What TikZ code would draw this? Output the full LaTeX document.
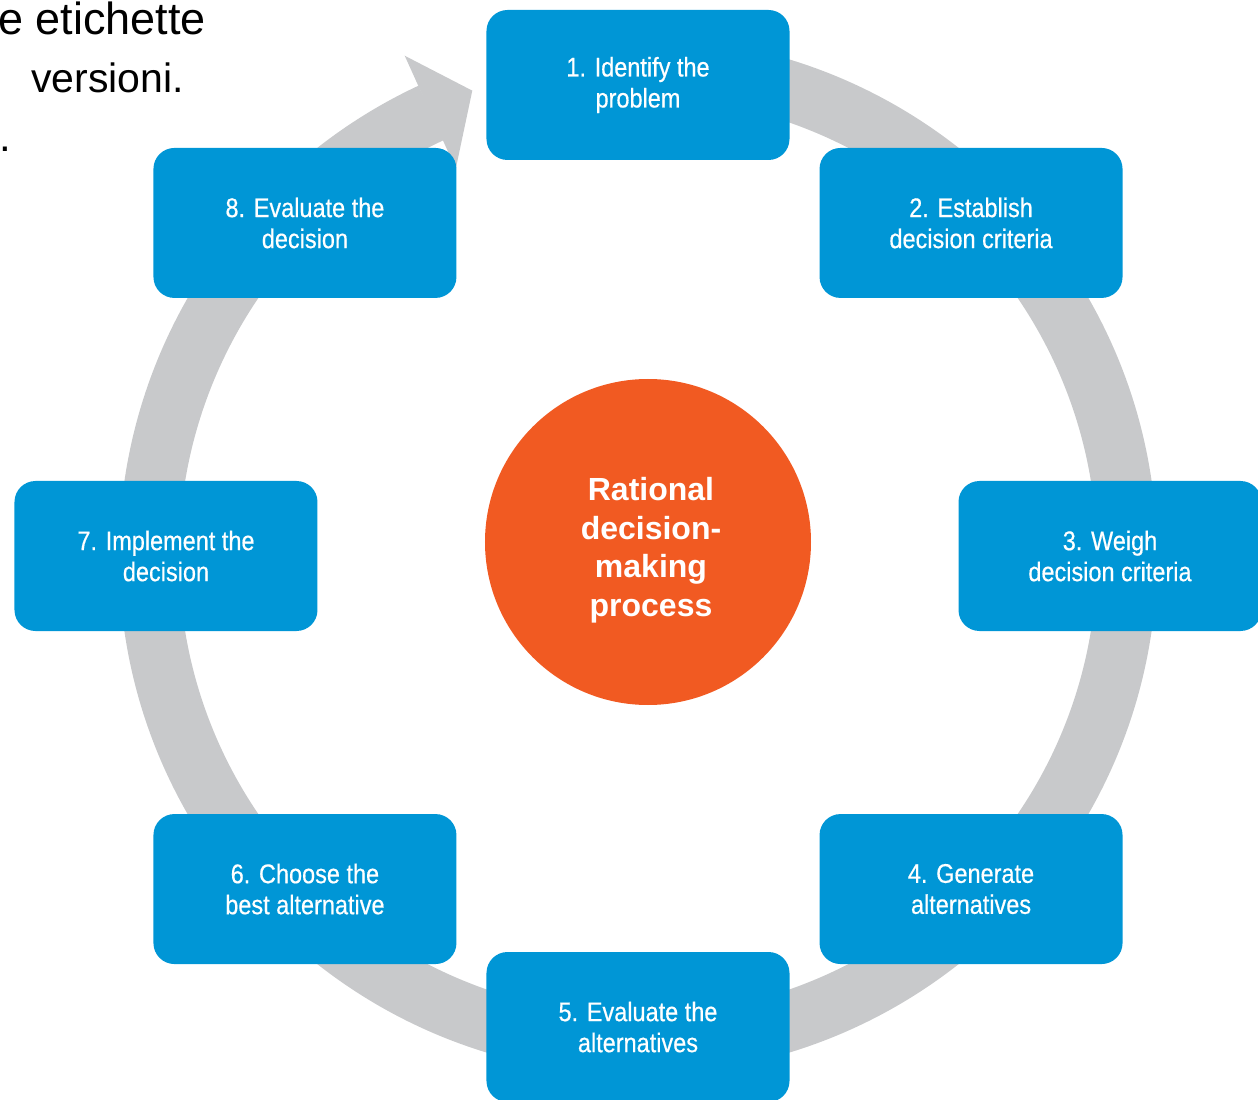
\documentclass[tikz,border=0pt]{standalone}
\usepackage{fontspec}
\setmainfont{Liberation Sans}
\newfontfamily\condfont[FakeStretch=0.87,FakeBold=0.5]{Liberation Sans}
\definecolor{stepblue}{HTML}{0096D6}
\definecolor{cyclegray}{HTML}{C8C9CB}
\definecolor{coreorange}{HTML}{F15A22}

\begin{document}
\begin{tikzpicture}[x=1pt,y=1pt,
  stepbox/.style={fill=stepblue,rounded corners=21pt,minimum width=303pt,minimum height=150pt,
    inner sep=0pt,text=white,align=center,font=\condfont\fontsize{27}{31}\selectfont},
  slidetext/.style={anchor=base west,inner sep=0pt}]
\useasboundingbox (-638,556) rectangle (620,-544);
% cut-off slide text
\node[slidetext,font=\fontsize{45}{58}\selectfont] (note1) at (-640,521) {e etichette};
\node[slidetext,font=\fontsize{41}{58}\selectfont] (note2) at (-607,463) {versioni.};
\node[slidetext,font=\fontsize{42}{58}\selectfont] (note3) at (-639,404) {.};
% grey cycle ring with its arrowhead
\draw[cyclegray,line width=60pt] (90:489) arc[start angle=90,end angle=-245,radius=489];
\fill[cyclegray] (115:552) -- (109.6:494) -- (115.2:428) -- cycle;
% the eight steps
\node[stepbox] (identify) at (90:471) {1. Identify the\\problem};
\node[stepbox] (criteria) at (45:471) {2. Establish\\decision criteria};
\node[stepbox] (weigh) at (0:472) {3. Weigh\\decision criteria};
\node[stepbox] (generate) at (-45:471) {4. Generate\\alternatives};
\node[stepbox] (evaluate) at (-90:471) {5. Evaluate the\\alternatives};
\node[stepbox] (choose) at (-135:471) {6. Choose the\\best alternative};
\node[stepbox] (implement) at (180:472) {7. Implement the\\decision};
\node[stepbox] (review) at (135:471) {8. Evaluate the\\decision};
% centre
\node[circle,fill=coreorange,minimum size=326pt,inner sep=0pt] (core) at (10,14) {};
\node[text=white,align=center,font=\bfseries\fontsize{32}{38.5}\selectfont] (corelabel)
  at ([xshift=3pt,yshift=-8pt]core.center) {Rational\\decision-\\making\\process};
\end{tikzpicture}
\end{document}
